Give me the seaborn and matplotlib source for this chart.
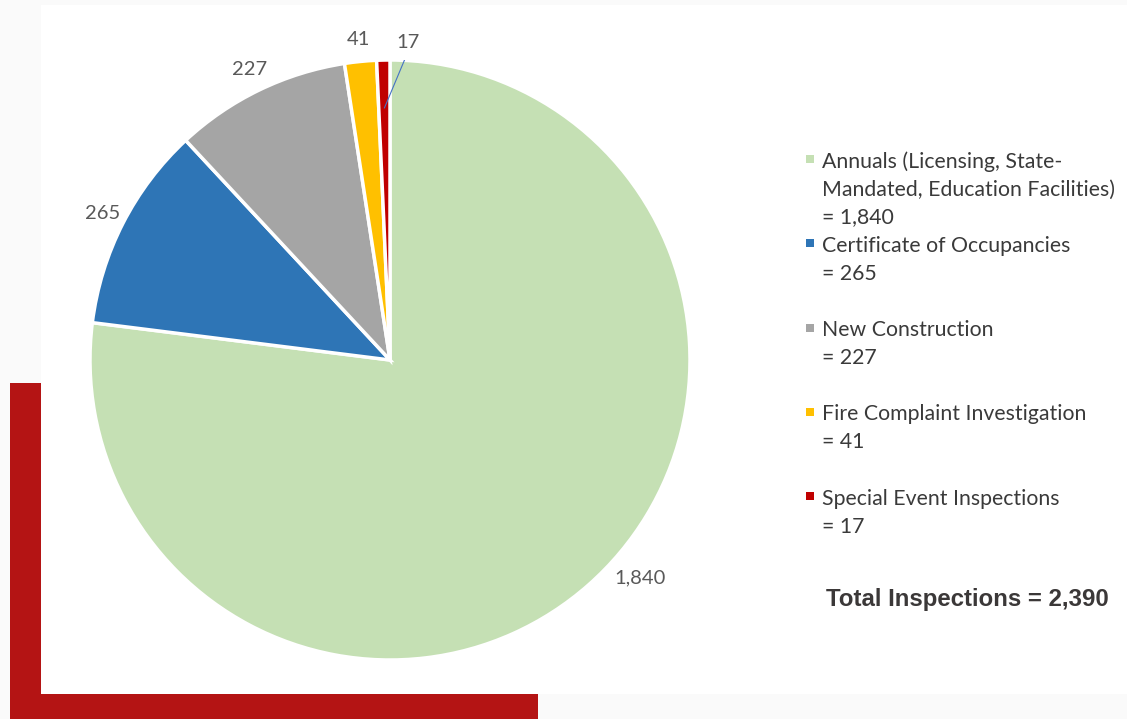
import matplotlib
matplotlib.use("Agg")
import matplotlib.pyplot as plt
from matplotlib.patches import Rectangle
import numpy as np
import seaborn as sns

# data
categories = ["Annuals (Licensing, State-\nMandated, Education Facilities)",
              "Certificate of Occupancies",
              "New Construction",
              "Fire Complaint Investigation",
              "Special Event Inspections"]
counts = [1840, 265, 227, 41, 17]
colors = ["#C5E0B4", "#2E75B6", "#A5A5A5", "#FFC000", "#C00000"]
total_label = "Total Inspections = 2,390"

sns.set_theme(style="white")
plt.rcParams['font.family'] = ['Lato', 'DejaVu Sans']

W, H = 1127, 719
fig = plt.figure(figsize=(W / 100, H / 100), dpi=100, facecolor="#FAFAFA")

# background layer in pixel coords
bg = fig.add_axes([0, 0, 1, 1], zorder=0)
bg.set_xlim(0, W)
bg.set_ylim(H, 0)
bg.axis("off")
bg.add_patch(Rectangle((41, 5), W - 41, 689, color="white", lw=0))
bg.add_patch(Rectangle((10, 383), 31, 336, color="#B41414", lw=0))
bg.add_patch(Rectangle((10, 694), 528, 25, color="#B41414", lw=0))

# pie
cx, cy, r = 390, 360, 300
ax = fig.add_axes([(cx - r) / W, (H - cy - r) / H, 2 * r / W, 2 * r / H], zorder=1)
wedges, texts = ax.pie(counts, colors=colors, startangle=90, counterclock=False,
                       labels=[f"{c:,}" for c in counts], labeldistance=1.075,
                       wedgeprops=dict(edgecolor="white", linewidth=2.5),
                       textprops=dict(color="#595959", fontsize=14.5))
ax.set_xlim(-1, 1)
ax.set_ylim(-1, 1)
ax.set_aspect("equal")
ax.axis("off")
for t in texts:
    t.set_ha("center")
    t.set_va("center")
texts[0].set_position((0.833, -0.727))
texts[4].set_position((0.06, 1.06))
# leader line for the smallest slice
w = wedges[4]
mid = np.deg2rad((w.theta1 + w.theta2) / 2)
ax.plot([0.063, 0.84 * np.cos(mid)], [1.035, 0.84 * np.sin(mid)], color="#4472C4", lw=0.8)

# legend
for i, (lab, c, col) in enumerate(zip(categories, counts, colors)):
    base = 167.5 + 84.3 * i
    bg.add_patch(Rectangle((806, base - 12.5), 8, 8, color=col, lw=0))
    lines = lab.split("\n") + [f"= {c:,}"]
    for j, ln in enumerate(lines):
        bg.text(822, base + 28 * j, ln, fontsize=15.3, color="#3A3A3A",
                ha="left", va="baseline")

bg.text(826, 606, total_label, fontsize=17.3, fontweight="bold", color="#3B3838",
        family="Liberation Sans", ha="left", va="baseline")

fig.savefig("out.png", dpi=100, facecolor=fig.get_facecolor())
